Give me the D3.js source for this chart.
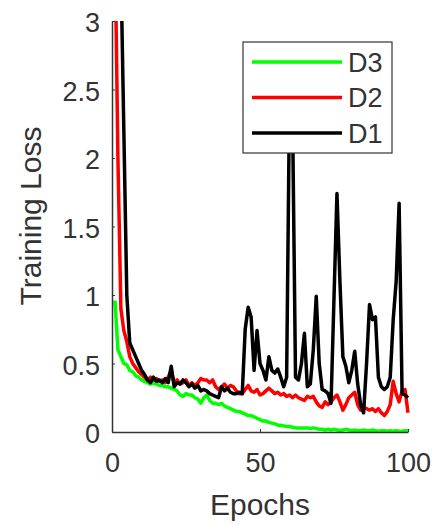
<!DOCTYPE html>
<html>
<head>
<meta charset="utf-8">
<script src="https://cdn.jsdelivr.net/npm/d3@7"></script>
<style>
  body { margin: 0; background: #fff; }
  text { font-family: "Liberation Sans", Arial, sans-serif; fill: #333; }
</style>
</head>
<body>
<script>
const width = 436;
const height = 525;

// epochs 1..100
const epochs = d3.range(1, 101);

const d1 = [4.8, 4.3, 3.4, 2.2, 1.0, 0.65, 0.6, 0.55, 0.5, 0.45,
  0.42, 0.38, 0.36, 0.4, 0.37, 0.38, 0.36, 0.39, 0.36, 0.48,
  0.33, 0.36, 0.35, 0.38, 0.36, 0.33, 0.35, 0.32, 0.34, 0.3,
  0.31, 0.3, 0.28, 0.27, 0.26, 0.25, 0.33, 0.3, 0.32, 0.29,
  0.28, 0.28, 0.29, 0.28, 0.75, 0.91, 0.84, 0.45, 0.74, 0.5,
  0.45, 0.38, 0.55, 0.45, 0.43, 0.46, 0.4, 0.33, 0.4, 2.5,
  2.3, 0.4, 0.38, 0.5, 0.72, 0.33, 0.35, 0.6, 0.99, 0.5,
  0.31, 0.3, 0.28, 0.21, 0.98, 1.74, 1.1, 0.55, 0.48, 0.36,
  0.45, 0.59, 0.35, 0.2, 0.14, 0.5, 0.93, 0.82, 0.84, 0.4,
  0.33, 0.31, 0.33, 0.4, 0.82, 1.1, 1.67, 0.28, 0.27, 0.25];

const d2 = [3.6, 2.0, 0.9, 0.74, 0.66, 0.55, 0.5, 0.47, 0.44, 0.42,
  0.4, 0.38, 0.4, 0.38, 0.39, 0.37, 0.38, 0.36, 0.4, 0.45,
  0.36, 0.38, 0.35, 0.36, 0.38, 0.34, 0.36, 0.34, 0.36, 0.39,
  0.38, 0.38, 0.36, 0.38, 0.33, 0.31, 0.33, 0.35, 0.32, 0.34,
  0.33, 0.3, 0.28, 0.28, 0.31, 0.34, 0.3, 0.29, 0.31, 0.27,
  0.28, 0.3, 0.32, 0.3, 0.28, 0.29, 0.27, 0.28, 0.26, 0.27,
  0.25, 0.27, 0.25, 0.24, 0.23, 0.26, 0.25, 0.26, 0.22, 0.19,
  0.18, 0.22, 0.2, 0.22, 0.25, 0.27, 0.22, 0.16, 0.2, 0.25,
  0.27, 0.29, 0.2, 0.16, 0.18, 0.17, 0.16, 0.17, 0.15, 0.17,
  0.14, 0.12, 0.15, 0.2, 0.37, 0.28, 0.22, 0.3, 0.31, 0.14];

const d3s = [0.96, 0.6, 0.55, 0.5, 0.49, 0.45, 0.44, 0.41, 0.4, 0.38,
  0.37, 0.36, 0.35, 0.36, 0.35, 0.34, 0.34, 0.33, 0.33, 0.32,
  0.31, 0.3, 0.27, 0.26, 0.28, 0.27, 0.27, 0.25, 0.24, 0.21,
  0.25, 0.27, 0.23, 0.21, 0.21, 0.2, 0.21, 0.19, 0.18, 0.17,
  0.16, 0.15, 0.15, 0.14, 0.13, 0.12, 0.12, 0.11, 0.1, 0.09,
  0.08, 0.08, 0.07, 0.065, 0.06, 0.05, 0.05, 0.045, 0.04, 0.04,
  0.035, 0.03, 0.03, 0.03, 0.03, 0.03, 0.025, 0.03, 0.025, 0.02,
  0.02, 0.015, 0.02, 0.015, 0.02, 0.015, 0.01, 0.015, 0.02, 0.015,
  0.01, 0.015, 0.01, 0.01, 0.015, 0.01, 0.01, 0.015, 0.01, 0.005,
  0.01, 0.01, 0.005, 0.01, 0.005, 0.01, 0.005, 0.005, 0.01, 0.01];

const seriesNames = ["D3", "D2", "D1"];
const seriesColors = ["#00ff00", "#ff0000", "#000000"];
const seriesValues = [d3s, d2, d1];

const xTicks = [0, 50, 100];
const yTicks = [0, 0.5, 1, 1.5, 2, 2.5, 3];

const margin = { left: 112, right: 28, top: 21, bottom: 93 };

const x = d3.scaleLinear().domain([0, 100]).range([margin.left, width - margin.right]);
const y = d3.scaleLinear().domain([0, 3]).range([height - margin.bottom, margin.top]);

const svg = d3.select("body")
  .append("svg")
  .attr("width", width)
  .attr("height", height);

svg.append("defs")
  .append("clipPath")
  .attr("id", "plot-clip")
  .append("rect")
  .attr("x", margin.left)
  .attr("y", margin.top)
  .attr("width", x.range()[1] - margin.left + 4)
  .attr("height", y.range()[0] - margin.top);

const line = d3.line()
  .x((d, i) => x(epochs[i]))
  .y((d) => y(d));

svg.append("g")
  .attr("clip-path", "url(#plot-clip)")
  .selectAll("path")
  .data(seriesValues)
  .join("path")
  .attr("d", line)
  .attr("fill", "none")
  .attr("stroke", (d, i) => seriesColors[i])
  .attr("stroke-width", 3.5)
  .attr("stroke-linejoin", "round");

// axes, matlab style: ticks inward
const xAxis = svg.append("g")
  .attr("transform", `translate(0,${y(0)})`)
  .call(d3.axisBottom(x).tickValues(xTicks).tickSizeInner(-3).tickSizeOuter(0).tickPadding(21));

const yAxis = svg.append("g")
  .attr("transform", `translate(${x(0)},0)`)
  .call(d3.axisLeft(y).tickValues(yTicks).tickSizeInner(-3).tickSizeOuter(0).tickPadding(12)
    .tickFormat(d3.format("")));

[xAxis, yAxis].forEach((a) => {
  a.select(".domain").attr("stroke", "#333").attr("stroke-width", 1.5);
  a.selectAll(".tick line").attr("stroke", "#333");
  a.selectAll(".tick text")
    .attr("font-size", 27)
    .attr("font-family", "Liberation Sans, Arial, sans-serif")
    .attr("fill", "#333");
});
yAxis.selectAll(".tick text").attr("dy", "0.4em");

svg.append("text")
  .attr("x", x(50))
  .attr("y", 515)
  .attr("text-anchor", "middle")
  .attr("font-size", 30)
  .text("Epochs");

svg.append("text")
  .attr("transform", `translate(41,216) rotate(-90)`)
  .attr("text-anchor", "middle")
  .attr("font-size", 30)
  .text("Training Loss");

// legend
const legend = svg.append("g");
legend.append("rect")
  .attr("x", 243)
  .attr("y", 42)
  .attr("width", 149)
  .attr("height", 111)
  .attr("fill", "#fff")
  .attr("stroke", "#333")
  .attr("stroke-width", 1.2);

const rows = legend.selectAll("g.row")
  .data(seriesNames)
  .join("g")
  .attr("class", "row")
  .attr("transform", (d, i) => `translate(0,${62 + i * 35.5})`);

rows.append("line")
  .attr("x1", 252)
  .attr("x2", 342)
  .attr("stroke", (d, i) => seriesColors[i])
  .attr("stroke-width", 3.5);

rows.append("text")
  .attr("x", 348)
  .attr("dy", "0.36em")
  .attr("font-size", 27)
  .text((d) => d);
</script>
</body>
</html>
